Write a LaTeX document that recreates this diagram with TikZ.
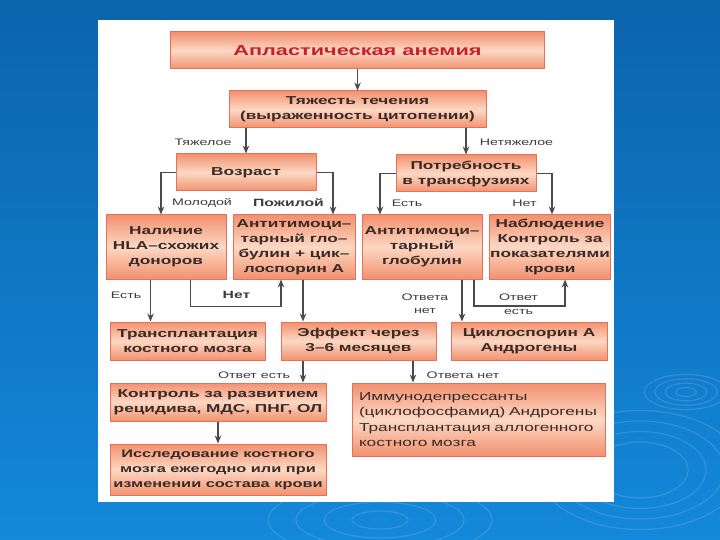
\documentclass[tikz,border=0pt]{standalone}
\usepackage{fontspec}
\setmainfont[FakeStretch=1.5]{Liberation Sans}
\usetikzlibrary{arrows.meta}
\definecolor{bgtop}{HTML}{0B64AC}
\definecolor{bgbot}{HTML}{1488DA}
\definecolor{boxedge}{HTML}{E2735A}
\definecolor{boxdark}{HTML}{F2916F}
\definecolor{boxlight}{HTML}{FCD8C4}
\definecolor{boxtext}{HTML}{3A2A26}
\definecolor{titlered}{HTML}{C91F2B}
\definecolor{linegrey}{HTML}{4A4A4A}
\definecolor{labgrey}{HTML}{3C3C3C}
\tikzset{
  box/.style={draw=boxedge, line width=1pt, top color=boxdark, bottom color=boxdark, middle color=boxlight,
    align=center, text=boxtext, font=\bfseries\fontsize{11.5}{15}\selectfont, inner sep=1pt},
  arr/.style={draw=linegrey, line width=1.3pt, -{Stealth[length=8pt,width=6.5pt]}},
  lab/.style={text=labgrey, font=\fontsize{9.5}{13.5}\selectfont, align=center, inner sep=1pt},
  blab/.style={text=labgrey, font=\bfseries\fontsize{10.5}{13}\selectfont, align=center, inner sep=1pt},
  ripple/.style={draw=white, opacity=0.13, line width=1.2pt}
}
\begin{document}
\begin{tikzpicture}[x=1pt,y=-1pt]
\useasboundingbox (0,0) rectangle (720,540);
\shade[top color=bgtop, bottom color=bgbot] (0,0) rectangle (720,540);
% ripples
\foreach \r in {8,16,24,32}{\draw[ripple] (686,392) ellipse ({\r*1.3} and {\r*0.55});}
\foreach \r in {40,55,70,85}{\draw[ripple] (640,470) ellipse ({\r*1.2} and {\r*0.7});}
\foreach \r in {20,40,60,80}{\draw[ripple] (380,520) ellipse ({\r*1.4} and {\r*0.45});}
% panel
\fill[white] (98,20) rectangle (614,502);

% nodes
\node[box, minimum width=374pt, minimum height=37pt, text=titlered, font=\bfseries\fontsize{14.5}{18}\selectfont] (title) at (357.5,50.5) {Апластическая анемия};
\node[box, minimum width=257pt, minimum height=37pt] (sev) at (357.5,109.5) {Тяжесть течения\\(выраженность цитопении)};
\node[box, minimum width=140pt, minimum height=37pt] (age) at (246,172.5) {Возраст};
\node[box, minimum width=140pt, minimum height=37pt] (need) at (466,173.5) {Потребность\\в трансфузиях};
\node[box, minimum width=120pt, minimum height=64pt] (hla) at (166,247) {Наличие\\HLA–схожих\\доноров};
\node[box, minimum width=122pt, minimum height=64pt] (atgc) at (294,247) {Антитимоци–\\тарный гло–\\булин + цик–\\лоспорин А};
\node[box, minimum width=120pt, minimum height=64pt] (atg) at (422,247) {Антитимоци–\\тарный\\глобулин};
\node[box, minimum width=120pt, minimum height=64pt] (obs) at (550,247) {Наблюдение\\Контроль за\\показателями\\крови};
\node[box, minimum width=155pt, minimum height=38pt] (tx) at (187.5,341) {Трансплантация\\костного мозга};
\node[box, minimum width=155pt, minimum height=38pt] (eff) at (358.5,341) {Эффект через\\3–6 месяцев};
\node[box, minimum width=156pt, minimum height=38pt] (cyc) at (529,341) {Циклоспорин А\\Андрогены};
\node[box, minimum width=216pt, minimum height=38pt] (ctl) at (218,402) {Контроль за развитием\\рецидива, МДС, ПНГ, ОЛ};
\node[box, minimum width=253pt, minimum height=73pt, align=left, text width=239pt, inner xsep=7pt,
  font=\fontsize{11.5}{15.5}\selectfont] (imm) at (478.5,419.5) {Иммунодепрессанты\\(циклофосфамид) Андрогены\\Трансплантация аллогенного\\костного мозга};
\node[box, minimum width=216pt, minimum height=51pt, inner sep=0.5pt, font=\bfseries\fontsize{10.9}{15}\selectfont] (exam) at (218,469.5) {Исследование костного\\мозга ежегодно или при\\изменении состава крови};

% connectors
\draw[arr] (title.south) -- (sev.north);
\draw[arr] (age.north |- sev.south) -- (age.north);
\draw[arr] (need.north |- sev.south) -- (need.north);
\draw[arr] (age.west) -| ([xshift=-5pt]hla.north);
\draw[arr] (age.east) -| ([xshift=39pt]atgc.north);
\draw[arr] (need.west) -| ([xshift=-42pt]atg.north);
\draw[arr] (need.east) -| ([xshift=2pt]obs.north);
\draw[arr] ([xshift=-15.5pt]hla.south) -- ([xshift=-15.5pt]hla.south |- tx.north);
\coordinate (n1) at ([xshift=24.5pt,yshift=-27pt]hla.south);
\draw[arr] ([xshift=24.5pt]hla.south) -- (n1) -| ([xshift=-13pt]atgc.south);
\draw[arr] ([xshift=9pt]atgc.south) -- ([xshift=9pt]atgc.south |- eff.north);
\draw[arr] ([xshift=40pt]atg.south) -- ([xshift=40pt]atg.south |- cyc.north);
\coordinate (n2) at ([xshift=52pt,yshift=-26.5pt]atg.south);
\draw[arr] ([xshift=52pt]atg.south) -- (n2) -| ([xshift=15pt]obs.south);
\draw[arr] ([xshift=-55.5pt]eff.south) -- ([xshift=-55.5pt]eff.south |- ctl.north);
\draw[arr] ([xshift=54.5pt]eff.south) -- ([xshift=54.5pt]eff.south |- imm.north);
\draw[arr] (ctl.south) -- (exam.north);

% labels
\node[lab] (l1) at (203,142) {Тяжелое};
\node[lab] (l2) at (516.5,142) {Нетяжелое};
\node[lab] (l3) at (202,203) {Молодой};
\node[blab] (l4) at (288.5,203) {Пожилой};
\node[lab] (l5) at (407,203) {Есть};
\node[lab] (l6) at (524.5,203) {Нет};
\node[lab] (l7) at (126,295) {Есть};
\node[blab] (l8) at (236.5,295) {Нет};
\node[lab] (l9) at (425,303.5) {Ответа\\нет};
\node[lab] (l10) at (518.5,304) {Ответ\\есть};
\node[lab] (l11) at (254,375) {Ответ есть};
\node[lab] (l12) at (463,375) {Ответа нет};
\end{tikzpicture}
\end{document}
